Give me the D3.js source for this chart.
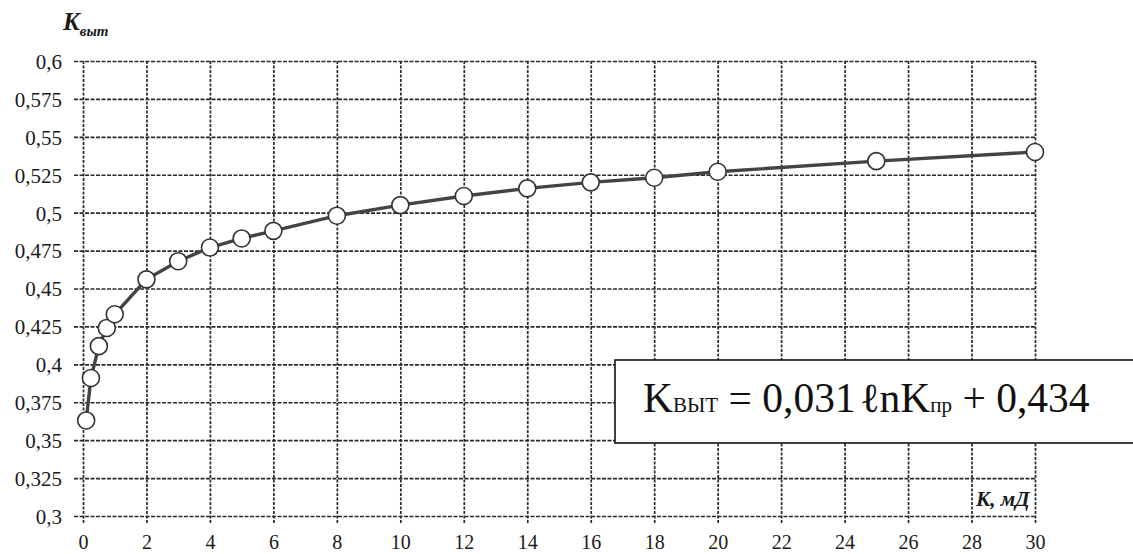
<!DOCTYPE html>
<html>
<head>
<meta charset="utf-8">
<script src="https://cdn.jsdelivr.net/npm/d3@7"></script>
<style>
  html, body { margin: 0; padding: 0; background: #ffffff; }
  svg { display: block; }
</style>
</head>
<body>
<svg id="chart" width="1133" height="554"></svg>
<script>
// ---- data ----
const permeability = [0.1, 0.25, 0.5, 0.75, 1, 2, 3, 4, 5, 6, 8, 10, 12, 14, 16, 18, 20, 25, 30];
const displacement = [0.363, 0.391, 0.412, 0.424, 0.433, 0.456, 0.468, 0.477, 0.483, 0.488, 0.498, 0.505, 0.511, 0.516, 0.520, 0.523, 0.527, 0.534, 0.540];
const xTicks = [0, 2, 4, 6, 8, 10, 12, 14, 16, 18, 20, 22, 24, 26, 28, 30];
const yTicks = [0.3, 0.325, 0.35, 0.375, 0.4, 0.425, 0.45, 0.475, 0.5, 0.525, 0.55, 0.575, 0.6];
const yTickLabels = ["0,3", "0,325", "0,35", "0,375", "0,4", "0,425", "0,45", "0,475", "0,5", "0,525", "0,55", "0,575", "0,6"];

const SERIF = "Liberation Serif";
const svg = d3.select("#chart");
const x = d3.scaleLinear().domain([0, 30]).range([83, 1035]);
const y = d3.scaleLinear().domain([0.3, 0.6]).range([516, 61]);

const gridColor = "#2a2a2a";

// vertical grid (x axis ticks, extended up)
const gx = svg.append("g").attr("transform", "translate(0,523)").call(
  d3.axisBottom(x).tickValues(xTicks).tickSize(-(523 - 61)).tickSizeOuter(0).tickFormat(d => d)
);
gx.attr("font-family", SERIF).attr("font-size", 20);
gx.select(".domain").remove();
gx.selectAll(".tick line")
  .attr("stroke", gridColor).attr("stroke-width", 1.7).attr("stroke-dasharray", "3,1.5");
gx.selectAll(".tick text")
  .attr("y", 26).attr("dy", 0)
  .attr("font-family", SERIF).attr("font-size", 20).attr("fill", "#1a1a1a");

// horizontal grid (y axis)
const gy = svg.append("g").attr("transform", "translate(74,0)").call(
  d3.axisLeft(y).tickValues(yTicks).tickSize(-(1035 - 74)).tickSizeOuter(0)
    .tickFormat((d, i) => yTickLabels[i])
);
gy.attr("font-family", SERIF).attr("font-size", 21);
gy.select(".domain").remove();
gy.selectAll(".tick line")
  .attr("stroke", gridColor).attr("stroke-width", 1.7).attr("stroke-dasharray", "4,1.5");
gy.selectAll(".tick text")
  .attr("x", -12).attr("dy", "0.35em")
  .attr("font-family", SERIF).attr("font-size", 21).attr("fill", "#1a1a1a");

// data line
const pts = permeability.map((k, i) => [k, displacement[i]]);
svg.append("path")
  .datum(pts)
  .attr("fill", "none")
  .attr("stroke", "#444444")
  .attr("stroke-width", 3.4)
  .attr("d", d3.line().x(d => x(d[0])).y(d => y(d[1])));

svg.append("g").selectAll("circle").data(pts).join("circle")
  .attr("cx", d => x(d[0])).attr("cy", d => y(d[1])).attr("r", 8.5)
  .attr("fill", "#ffffff").attr("stroke", "#333333").attr("stroke-width", 1.6);

// axis titles
const yt = svg.append("text").attr("x", 63).attr("y", 30)
  .attr("font-family", SERIF).attr("font-weight", "bold").attr("font-style", "italic").attr("fill", "#1a1a1a");
yt.append("tspan").attr("font-size", 25).text("K");
yt.append("tspan").attr("font-size", 15).attr("dy", 6).text("выт");

svg.append("text").attr("x", 976).attr("y", 506)
  .attr("font-family", SERIF).attr("font-weight", "bold").attr("font-style", "italic")
  .attr("font-size", 21).attr("fill", "#1a1a1a")
  .text("К, мД");

// equation box
svg.append("rect").attr("x", 615).attr("y", 360).attr("width", 540).attr("height", 83)
  .attr("fill", "#ffffff").attr("stroke", "#111").attr("stroke-width", 1.6);

const eq = svg.append("text").attr("x", 643).attr("y", 412)
  .attr("font-family", SERIF).attr("fill", "#111");
const big = 41.5, small = 21;
eq.append("tspan").attr("font-size", big).text("K");
eq.append("tspan").attr("font-size", small).text("ВЫТ");
eq.append("tspan").attr("font-size", big).text(" = 0,031");
eq.append("tspan").attr("font-size", big).attr("dx", 4).text("ℓnK");
eq.append("tspan").attr("font-size", small).text("пр");
eq.append("tspan").attr("font-size", big).text(" + 0,434");
</script>
</body>
</html>
